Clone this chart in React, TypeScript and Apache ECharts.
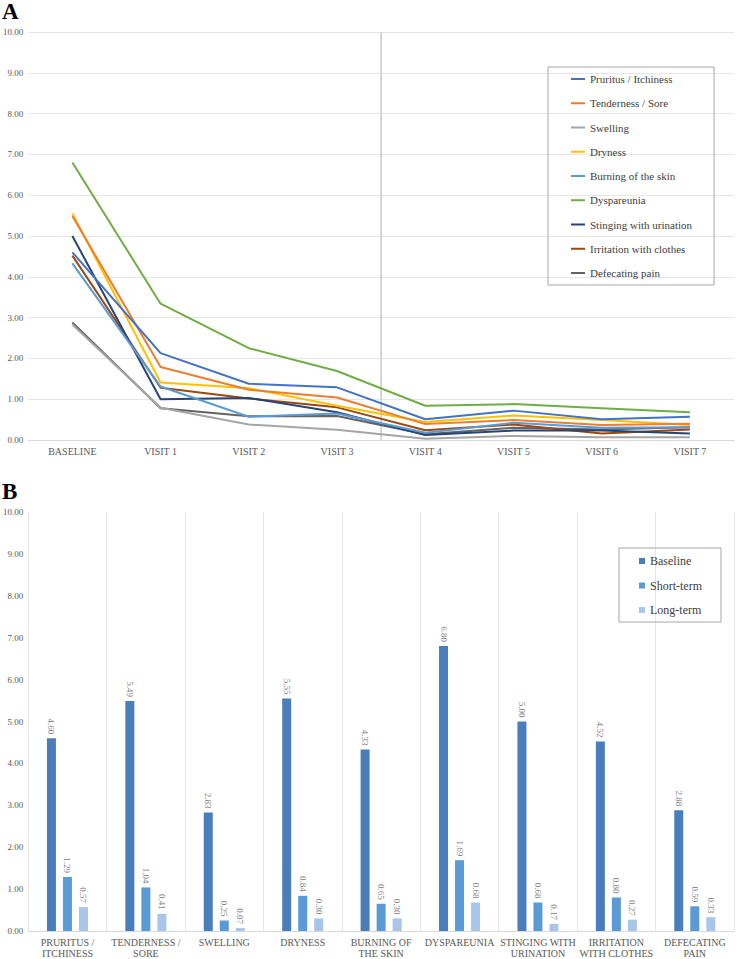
import React, { useEffect, useRef } from "react";
import * as echarts from "echarts";

// ---------- Panel A data ----------
const visits = ["Baseline", "Visit 1", "Visit 2", "Visit 3", "Visit 4", "Visit 5", "Visit 6", "Visit 7"];
const symptoms = [
  "Pruritus / Itchiness",
  "Tenderness / Sore",
  "Swelling",
  "Dryness",
  "Burning of the skin",
  "Dyspareunia",
  "Stinging with urination",
  "Irritation with clothes",
  "Defecating pain",
];
const pruritus = [4.6, 2.13, 1.38, 1.29, 0.51, 0.72, 0.51, 0.57];
const tenderness = [5.49, 1.79, 1.23, 1.04, 0.39, 0.49, 0.37, 0.4];
const swelling = [2.83, 0.79, 0.38, 0.25, 0.03, 0.1, 0.07, 0.07];
const dryness = [5.55, 1.41, 1.27, 0.84, 0.44, 0.6, 0.49, 0.37];
const burning = [4.33, 1.31, 0.57, 0.65, 0.18, 0.42, 0.3, 0.31];
const dyspareunia = [6.8, 3.34, 2.25, 1.69, 0.84, 0.88, 0.78, 0.68];
const stinging = [5.0, 1.0, 1.03, 0.68, 0.12, 0.23, 0.23, 0.16];
const irritation = [4.52, 1.28, 1.02, 0.8, 0.24, 0.38, 0.16, 0.26];
const defecating = [2.88, 0.78, 0.58, 0.59, 0.14, 0.3, 0.26, 0.31];
const lineSeriesData = [pruritus, tenderness, swelling, dryness, burning, dyspareunia, stinging, irritation, defecating];
const lineColors = ["#4472C4", "#ED7D31", "#A5A5A5", "#FFC000", "#5B9BD5", "#70AD47", "#264478", "#9E480E", "#636363"];
const separatorAt = 3.5; // boundary between Visit 3 and Visit 4

// ---------- Panel B data ----------
const barCategories = [
  "PRURITUS /\nITCHINESS",
  "TENDERNESS /\nSORE",
  "SWELLING",
  "DRYNESS",
  "BURNING OF\nTHE SKIN",
  "DYSPAREUNIA",
  "STINGING WITH\nURINATION",
  "IRRITATION\nWITH CLOTHES",
  "DEFECATING\nPAIN",
];
const barSeriesNames = ["Baseline", "Short-term", "Long-term"];
const baselineValues = [4.6, 5.49, 2.83, 5.55, 4.33, 6.8, 5.0, 4.52, 2.88];
const shortTermValues = [1.29, 1.04, 0.25, 0.84, 0.65, 1.69, 0.68, 0.8, 0.59];
const longTermValues = [0.57, 0.41, 0.07, 0.3, 0.3, 0.68, 0.17, 0.27, 0.33];
const barColors = ["#4A7EBB", "#5B9BD5", "#A9C5E9"];

const FONT = '"Liberation Serif", "Times New Roman", serif';

export default function App() {
  const ref = useRef<HTMLDivElement>(null);
  useEffect(() => {
    document.body.style.margin = "0";
    const chart = echarts.init(ref.current!, null, { renderer: "svg" });
    const fmt = (v: number) => v.toFixed(2);
    const lines = lineSeriesData.map((d, i) => ({
      name: symptoms[i],
      type: "line",
      xAxisIndex: 0,
      yAxisIndex: 0,
      data: d,
      symbol: "none",
      lineStyle: { width: 2, color: lineColors[i] },
      itemStyle: { color: lineColors[i] },
      z: 10 - i,
    }));
    const barData = [baselineValues, shortTermValues, longTermValues];
    const bars = barData.map((d, i) => ({
      name: barSeriesNames[i],
      type: "bar",
      xAxisIndex: 2,
      yAxisIndex: 1,
      data: d,
      barWidth: 9,
      barGap: "78%",
      itemStyle: { color: barColors[i] },
      label: {
        show: true,
        position: "top",
        distance: 4,
        rotate: -90,
        align: "right",
        verticalAlign: "middle",
        fontSize: 9,
        fontFamily: FONT,
        color: "#7f7f7f",
        formatter: (p: any) => fmt(p.value),
      },
    }));
    chart.setOption({
      animation: false,
      backgroundColor: "#ffffff",
      textStyle: { fontFamily: FONT },
      graphic: [
        { type: "text", left: 2, top: 0, style: { text: "A", font: `bold 23px ${FONT}`, fill: "#000" } },
        { type: "text", left: 2, top: 480, style: { text: "B", font: `bold 23px ${FONT}`, fill: "#000" } },
      ],
      grid: [
        { left: 28, top: 32, width: 706, height: 408 },
        { left: 28, top: 512, width: 706, height: 422 },
      ],
      legend: [
        {
          orient: "vertical",
          left: 548,
          top: 67,
          padding: [5, 22, 5, 23],
          icon: "rect",
          itemWidth: 14,
          itemHeight: 2,
          itemGap: 10.25,
          borderColor: "#a6a6a6",
          borderWidth: 1,
          textStyle: { fontSize: 11, lineHeight: 14, color: "#404040", fontFamily: FONT },
          data: symptoms,
        },
        {
          orient: "vertical",
          left: 619,
          top: 548,
          padding: [6, 19, 5, 20],
          itemWidth: 6,
          itemHeight: 6,
          itemGap: 10.5,
          icon: "rect",
          borderColor: "#a6a6a6",
          borderWidth: 1,
          textStyle: { fontSize: 12, lineHeight: 14, color: "#404040", fontFamily: FONT },
          data: barSeriesNames,
        },
      ],
      xAxis: [
        {
          gridIndex: 0,
          type: "category",
          data: visits,
          boundaryGap: true,
          axisLine: { lineStyle: { color: "#d9d9d9" } },
          axisTick: { show: false },
          axisLabel: {
            color: "#595959",
            fontSize: 10,
            margin: 6,
            fontFamily: FONT,
            formatter: (v: string) => v.toUpperCase(),
          },
        },
        { gridIndex: 0, type: "value", min: -0.5, max: 7.5, show: false },
        {
          gridIndex: 1,
          type: "category",
          data: barCategories,
          axisLine: { lineStyle: { color: "#d9d9d9" } },
          axisTick: { show: false },
          splitLine: { show: true, interval: 0, lineStyle: { color: "#e6e6e6" } },
          axisLabel: { interval: 0, color: "#595959", fontSize: 10, lineHeight: 11, margin: 6, fontFamily: FONT },
        },
      ],
      yAxis: [
        {
          gridIndex: 0,
          type: "value",
          min: 0,
          max: 10,
          interval: 1,
          axisLine: { show: false },
          axisTick: { show: false },
          splitLine: { lineStyle: { color: "#e6e6e6" } },
          axisLabel: { color: "#595959", fontSize: 9, margin: 5, fontFamily: FONT, formatter: fmt },
        },
        {
          gridIndex: 1,
          type: "value",
          min: 0,
          max: 10,
          interval: 1,
          axisLine: { show: false },
          axisTick: { show: false },
          splitLine: { show: false },
          axisLabel: { color: "#595959", fontSize: 9, margin: 5, fontFamily: FONT, formatter: fmt },
        },
      ],
      series: [
        {
          name: "separator",
          type: "line",
          xAxisIndex: 1,
          yAxisIndex: 0,
          data: [
            [separatorAt, 0],
            [separatorAt, 10],
          ],
          symbol: "none",
          silent: true,
          lineStyle: { color: "#c8c8c8", width: 1.5 },
          z: 1,
        },
        ...lines,
        ...bars,
      ],
    });
    return () => chart.dispose();
  }, []);
  return <div ref={ref} style={{ position: "absolute", left: 0, top: 0, width: 736, height: 959, background: "#fff" }} />;
}
